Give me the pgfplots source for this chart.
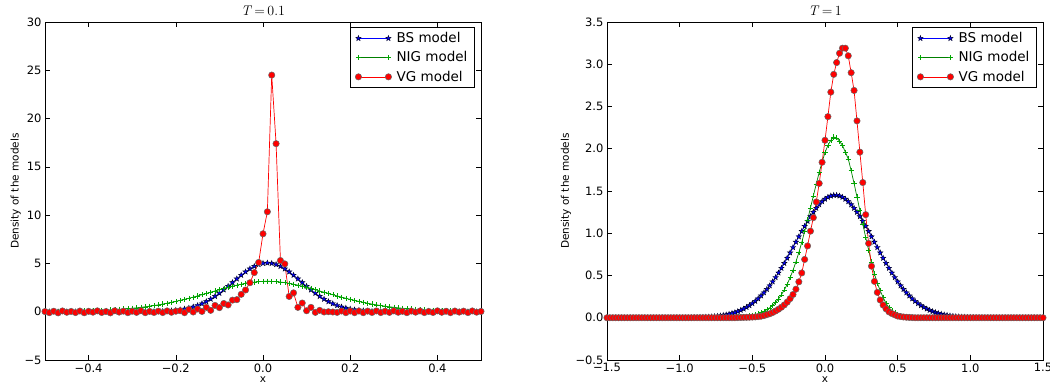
\documentclass[border=0pt]{standalone}
\usepackage[no-math]{fontspec}
\setmainfont{DejaVu Sans}
\newfontfamily\lmr{Latin Modern Roman}
\usepackage{pgfplots}
\usepackage{pgfplotstable}
\pgfplotsset{compat=1.18}

\pgfdeclareplotmark{fstar}{%
  \pgfpathmoveto{\pgfpointpolar{90}{\pgfplotmarksize}}%
  \pgfpathlineto{\pgfpointpolar{126}{0.42\pgfplotmarksize}}%
  \pgfpathlineto{\pgfpointpolar{162}{\pgfplotmarksize}}%
  \pgfpathlineto{\pgfpointpolar{198}{0.42\pgfplotmarksize}}%
  \pgfpathlineto{\pgfpointpolar{234}{\pgfplotmarksize}}%
  \pgfpathlineto{\pgfpointpolar{270}{0.42\pgfplotmarksize}}%
  \pgfpathlineto{\pgfpointpolar{306}{\pgfplotmarksize}}%
  \pgfpathlineto{\pgfpointpolar{342}{0.42\pgfplotmarksize}}%
  \pgfpathlineto{\pgfpointpolar{18}{\pgfplotmarksize}}%
  \pgfpathlineto{\pgfpointpolar{54}{0.42\pgfplotmarksize}}%
  \pgfpathclose
  \pgfusepathqfillstroke
}

\definecolor{mplblue}{rgb}{0,0,1}
\definecolor{mplgreen}{rgb}{0,0.5,0}
\definecolor{mplred}{rgb}{1,0,0}

% T = 0.1 : x, BS, NIG, VG
\pgfplotstableread{
x bs nig vg
-0.50 0 0.020 0.02
-0.49 0 0.024 -0.10
-0.48 0 0.028 0.05
-0.47 0 0.033 -0.12
-0.46 0 0.038 0.08
-0.45 0 0.045 -0.06
-0.44 0 0.052 0.03
-0.43 0 0.060 -0.09
-0.42 0 0.070 0.07
-0.41 0 0.081 -0.11
-0.40 0 0.094 0.04
-0.39 0 0.108 -0.05
-0.38 0 0.124 0.09
-0.37 0 0.143 -0.08
-0.36 0 0.164 0.02
-0.35 0 0.188 -0.12
-0.34 0 0.215 0.10
-0.33 0 0.245 -0.04
-0.32 0 0.278 0.06
-0.31 0.001 0.316 -0.10
-0.30 0.002 0.357 0.05
-0.29 0.004 0.404 -0.07
-0.28 0.006 0.455 0.10
-0.27 0.009 0.511 -0.10
-0.26 0.015 0.572 0.03
-0.25 0.022 0.640 -0.08
-0.24 0.034 0.713 0.06
-0.23 0.050 0.792 -0.09
-0.22 0.073 0.877 0.08
-0.21 0.105 0.968 -0.06
-0.20 0.148 1.065 0.05
-0.19 0.205 1.168 0.10
-0.18 0.280 1.277 -0.10
-0.17 0.377 1.391 0.24
-0.16 0.499 1.510 -0.03
-0.15 0.650 1.633 0.28
-0.14 0.833 1.760 0.03
-0.13 1.050 1.889 0.45
-0.12 1.304 2.019 0.14
-0.11 1.593 2.149 0.65
-0.10 1.916 2.278 0.42
-0.09 2.267 2.404 0.85
-0.08 2.639 2.526 0.70
-0.07 3.024 2.641 1.20
-0.06 3.410 2.749 1.25
-0.05 3.785 2.848 1.80
-0.04 4.133 2.935 2.25
-0.03 4.442 3.010 3.00
-0.02 4.699 3.069 4.05
-0.01 4.891 3.114 5.10
0.00 5.010 3.141 8.07
0.01 5.050 3.150 10.35
0.02 5.010 3.141 24.50
0.03 4.891 3.114 17.40
0.04 4.699 3.069 5.30
0.05 4.442 3.010 4.95
0.06 4.133 2.935 1.58
0.07 3.785 2.848 1.95
0.08 3.410 2.749 0.45
0.09 3.024 2.641 0.90
0.10 2.639 2.526 0.10
0.11 2.267 2.404 0.45
0.12 1.916 2.278 -0.07
0.13 1.593 2.149 0.14
0.14 1.304 2.019 -0.03
0.15 1.050 1.889 0.00
0.16 0.833 1.760 -0.03
0.17 0.650 1.633 -0.07
0.18 0.499 1.510 0.07
0.19 0.377 1.391 -0.10
0.20 0.280 1.277 0.07
0.21 0.205 1.168 -0.10
0.22 0.148 1.065 0.07
0.23 0.105 0.968 -0.10
0.24 0.073 0.877 0.06
0.25 0.050 0.792 -0.08
0.26 0.034 0.713 0.08
0.27 0.022 0.640 -0.09
0.28 0.015 0.572 0.05
0.29 0.009 0.511 -0.07
0.30 0.006 0.455 0.09
0.31 0.004 0.404 -0.06
0.32 0.002 0.357 0.04
0.33 0.001 0.316 -0.10
0.34 0 0.278 0.07
0.35 0 0.245 -0.05
0.36 0 0.215 0.08
0.37 0 0.188 -0.09
0.38 0 0.164 0.03
0.39 0 0.143 -0.08
0.40 0 0.124 0.09
0.41 0 0.108 -0.06
0.42 0 0.094 0.05
0.43 0 0.081 -0.10
0.44 0 0.070 0.07
0.45 0 0.060 -0.04
0.46 0 0.052 0.06
0.47 0 0.045 -0.09
0.48 0 0.038 0.08
0.49 0 0.033 -0.05
0.50 0 0.028 0.03
}\tableA

% T = 1 : x, BS, NIG, VG
\pgfplotstableread{
x bs nig vg
-1.50 0 0 0
-1.48 0 0 0
-1.46 0 0 0
-1.44 0 0 0
-1.42 0 0 0
-1.40 0 0 0
-1.38 0 0 0
-1.36 0 0 0
-1.34 0 0 0
-1.32 0 0 0
-1.30 0 0 0
-1.28 0 0 0
-1.26 0 0 0
-1.24 0 0 0
-1.22 0 0 0
-1.20 0 0 0
-1.18 0 0 0
-1.16 0 0 0
-1.14 0 0 0
-1.12 0 0 0
-1.10 0 0 0
-1.08 0 0 0
-1.06 0 0 0
-1.04 0 0 0
-1.02 0 0 0
-1.00 0 0 0
-0.98 0 0 0
-0.96 0 0 0
-0.94 0 0 0
-0.92 0.002 0 0
-0.90 0.003 0 0
-0.88 0.004 0 0
-0.86 0.005 0 0
-0.84 0.006 0 0
-0.82 0.008 0 0
-0.80 0.010 0 0
-0.78 0.012 0 0
-0.76 0.015 0 0
-0.74 0.019 0 0
-0.72 0.023 0 0
-0.70 0.029 0 0
-0.68 0.035 0.002 0
-0.66 0.043 0.003 0
-0.64 0.052 0.004 0
-0.62 0.062 0.006 0
-0.60 0.075 0.008 0.002
-0.58 0.089 0.010 0.003
-0.56 0.105 0.013 0.004
-0.54 0.124 0.017 0.005
-0.52 0.145 0.022 0.006
-0.50 0.169 0.029 0.008
-0.48 0.196 0.037 0.010
-0.46 0.226 0.047 0.013
-0.44 0.260 0.060 0.018
-0.42 0.297 0.075 0.025
-0.40 0.337 0.095 0.036
-0.38 0.380 0.118 0.047
-0.36 0.427 0.147 0.062
-0.34 0.477 0.181 0.080
-0.32 0.531 0.223 0.100
-0.30 0.587 0.272 0.124
-0.28 0.645 0.330 0.152
-0.26 0.706 0.397 0.185
-0.24 0.769 0.475 0.226
-0.22 0.832 0.563 0.275
-0.20 0.896 0.662 0.338
-0.18 0.960 0.772 0.425
-0.16 1.023 0.892 0.530
-0.14 1.084 1.021 0.690
-0.12 1.143 1.158 0.850
-0.10 1.198 1.300 1.025
-0.08 1.250 1.443 1.185
-0.06 1.297 1.585 1.370
-0.04 1.339 1.720 1.590
-0.02 1.375 1.845 1.840
0.00 1.405 1.954 2.100
0.02 1.427 2.040 2.380
0.04 1.442 2.100 2.670
0.06 1.450 2.138 2.880
0.08 1.450 2.130 3.020
0.10 1.442 2.090 3.130
0.12 1.427 2.040 3.190
0.14 1.405 1.960 3.190
0.16 1.375 1.880 3.100
0.18 1.339 1.740 2.900
0.20 1.297 1.590 2.690
0.22 1.250 1.430 2.330
0.24 1.198 1.270 1.960
0.26 1.143 1.110 1.600
0.28 1.084 0.950 1.220
0.30 1.023 0.800 0.880
0.32 0.960 0.660 0.610
0.34 0.896 0.520 0.430
0.36 0.832 0.410 0.300
0.38 0.769 0.320 0.210
0.40 0.706 0.240 0.150
0.42 0.645 0.170 0.105
0.44 0.587 0.120 0.070
0.46 0.531 0.082 0.050
0.48 0.477 0.056 0.035
0.50 0.427 0.040 0.020
0.52 0.380 0.028 0.014
0.54 0.337 0.019 0.009
0.56 0.297 0.013 0.006
0.58 0.260 0.008 0.004
0.60 0.226 0.005 0.002
0.62 0.196 0.003 0
0.64 0.169 0.002 0
0.66 0.145 0 0
0.68 0.124 0 0
0.70 0.105 0 0
0.72 0.089 0 0
0.74 0.075 0 0
0.76 0.062 0 0
0.78 0.052 0 0
0.80 0.043 0 0
0.82 0.035 0 0
0.84 0.029 0 0
0.86 0.023 0 0
0.88 0.019 0 0
0.90 0.015 0 0
0.92 0.012 0 0
0.94 0.010 0 0
0.96 0.008 0 0
0.98 0.006 0 0
1.00 0.005 0 0
1.02 0.004 0 0
1.04 0.003 0 0
1.06 0.002 0 0
1.08 0 0 0
1.10 0 0 0
1.12 0 0 0
1.14 0 0 0
1.16 0 0 0
1.18 0 0 0
1.20 0 0 0
1.22 0 0 0
1.24 0 0 0
1.26 0 0 0
1.28 0 0 0
1.30 0 0 0
1.32 0 0 0
1.34 0 0 0
1.36 0 0 0
1.38 0 0 0
1.40 0 0 0
1.42 0 0 0
1.44 0 0 0
1.46 0 0 0
1.48 0 0 0
1.50 0 0 0
}\tableB

\pgfplotsset{
  mplaxis/.style={
    scale only axis, width=436pt, height=338pt, anchor=south west,
    tick align=inside, tick pos=both,
    major tick length=5pt,
    every tick/.style={black, line width=0.6pt},
    axis line style={black, line width=0.8pt},
    tick label style={font=\fontsize{11.5}{13}\selectfont},
    xlabel style={font=\fontsize{10.5}{12}\selectfont, at={(axis description cs:0.5,-0.058)}, anchor=center},
    every axis title shift=0pt,
    title style={font=\lmr\fontsize{14}{16}\selectfont, at={(axis description cs:0.5,1.034)}, anchor=center},
    legend style={font=\fontsize{13.5}{16}\selectfont, draw=black, line width=0.8pt,
      at={(rel axis cs:0.986,0.985)}, anchor=north east, inner xsep=5pt, inner ysep=3pt,
      /tikz/row sep=3.5pt, /tikz/column sep=3pt},
    legend cell align=left,
    legend image code/.code={\draw[mark repeat=1,mark phase=1,#1] plot coordinates {(0pt,0pt) (30pt,0pt)};},
  },
  bsstyle/.style={mplblue, line width=0.7pt, mark=fstar, mark size=2.8pt,
    mark options={fill=mplblue, draw=black!90!blue, line width=0.4pt}},
  nigstyle/.style={mplgreen, line width=0.7pt, mark=+, mark size=2.6pt,
    mark options={draw=green!65!black, line width=0.5pt}},
  vgstyle/.style={mplred, line width=0.7pt, mark=*, mark size=3.2pt,
    mark options={fill=mplred, draw=black!60, line width=0.5pt}},
}

\begin{document}
\begin{tikzpicture}
\path[use as bounding box] (0pt,0pt) rectangle (1050pt,387pt);

\begin{axis}[mplaxis, at={(45pt,27pt)},
  xmin=-0.5, xmax=0.5, ymin=-5, ymax=30,
  xtick={-0.4,-0.2,0,0.2,0.4}, xticklabels={−0.4,−0.2,0.0,0.2,0.4},
  ytick={-5,0,5,10,15,20,25,30}, yticklabels={−5,0,5,10,15,20,25,30},
  title={\textit{T}\,=\,0.1}, xlabel={x}, ylabel={Density of the models},
  ylabel style={font=\fontsize{10.5}{12}\selectfont, at={(axis description cs:-0.067,0.5)}, anchor=center},
]
\addplot[bsstyle] table[x=x, y=bs] {\tableA};
\addlegendentry{BS model}
\addplot[nigstyle] table[x=x, y=nig] {\tableA};
\addlegendentry{NIG model}
\addplot[vgstyle] table[x=x, y=vg] {\tableA};
\addlegendentry{VG model}
\end{axis}

\begin{axis}[mplaxis, at={(607pt,27pt)},
  xmin=-1.5, xmax=1.5, ymin=-0.5, ymax=3.5,
  xtick={-1.5,-1,-0.5,0,0.5,1,1.5}, xticklabels={−1.5,−1.0,−0.5,0.0,0.5,1.0,1.5},
  ytick={-0.5,0,0.5,1,1.5,2,2.5,3,3.5}, yticklabels={−0.5,0.0,0.5,1.0,1.5,2.0,2.5,3.0,3.5},
  title={\textit{T}\,=\,1}, xlabel={x}, ylabel={Density of the models},
  ylabel style={font=\fontsize{10.5}{12}\selectfont, at={(axis description cs:-0.094,0.5)}, anchor=center},
]
\addplot[bsstyle] table[x=x, y=bs] {\tableB};
\addlegendentry{BS model}
\addplot[nigstyle] table[x=x, y=nig] {\tableB};
\addlegendentry{NIG model}
\addplot[vgstyle] table[x=x, y=vg] {\tableB};
\addlegendentry{VG model}
\end{axis}
\end{tikzpicture}
\end{document}
